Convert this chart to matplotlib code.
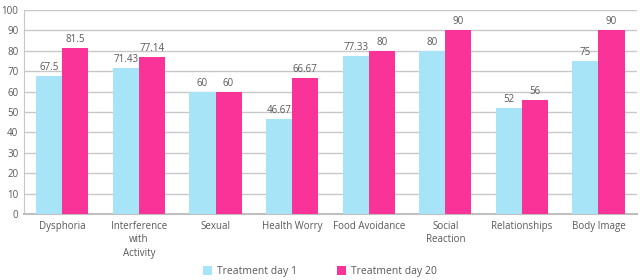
import numpy as np
import matplotlib
matplotlib.use("Agg")
import matplotlib.pyplot as plt

categories = ["Dysphoria", "Interference\nwith\nActivity", "Sexual", "Health Worry",
              "Food Avoidance", "Social\nReaction", "Relationships", "Body Image"]
day1 = [67.5, 71.43, 60, 46.67, 77.33, 80, 52, 75]
day20 = [81.5, 77.14, 60, 66.67, 80, 90, 56, 90]
day1_labels = ["67.5", "71.43", "60", "46.67", "77.33", "80", "52", "75"]
day20_labels = ["81.5", "77.14", "60", "66.67", "80", "90", "56", "90"]

plt.rcParams['font.family'] = ['Open Sans', 'DejaVu Sans']
text_c = "#595959"
blue = "#A8E4F7"
pink = "#FA3399"

fig = plt.figure(figsize=(6.4, 2.8), dpi=100)
ax = fig.add_axes([0.0375, 0.236, 0.9575, 0.728])

x = np.arange(len(categories))
w = 0.34
b1 = ax.bar(x - w / 2, day1, w, color=blue, label="Treatment day 1", zorder=3)
b2 = ax.bar(x + w / 2, day20, w, color=pink, label="Treatment day 20", zorder=3)

for rect, lab in zip(b1, day1_labels):
    ax.text(rect.get_x() + rect.get_width() / 2, rect.get_height() + 1.5, lab,
            ha="center", va="bottom", fontsize=7, color=text_c)
for rect, lab in zip(b2, day20_labels):
    ax.text(rect.get_x() + rect.get_width() / 2, rect.get_height() + 1.5, lab,
            ha="center", va="bottom", fontsize=7, color=text_c)

ax.set_xlim(-0.5, len(categories) - 0.5)
ax.set_ylim(0, 100)
ax.set_yticks(np.arange(0, 101, 10))
ax.set_xticks(x)
ax.set_xticklabels(categories, fontsize=7, color=text_c, linespacing=1.3)
ax.tick_params(axis="y", labelsize=7, labelcolor=text_c, length=0, pad=4)
ax.tick_params(axis="x", length=0, pad=5)
ax.yaxis.grid(True, color="#C8C8C8", linewidth=1, zorder=0)
for s in ["top", "right"]:
    ax.spines[s].set_visible(False)
ax.spines["left"].set_color("#C8C8C8")
ax.spines["bottom"].set_color("#BFBFBF")
ax.spines["bottom"].set_linewidth(1.5)

fig.legend(loc="lower center", bbox_to_anchor=(0.5, -0.022), ncol=2, frameon=False,
           fontsize=7.5, labelcolor=text_c, handlelength=0.9, handleheight=0.9,
           handletextpad=0.5, columnspacing=3.8)

fig.savefig("out.png", dpi=100)
